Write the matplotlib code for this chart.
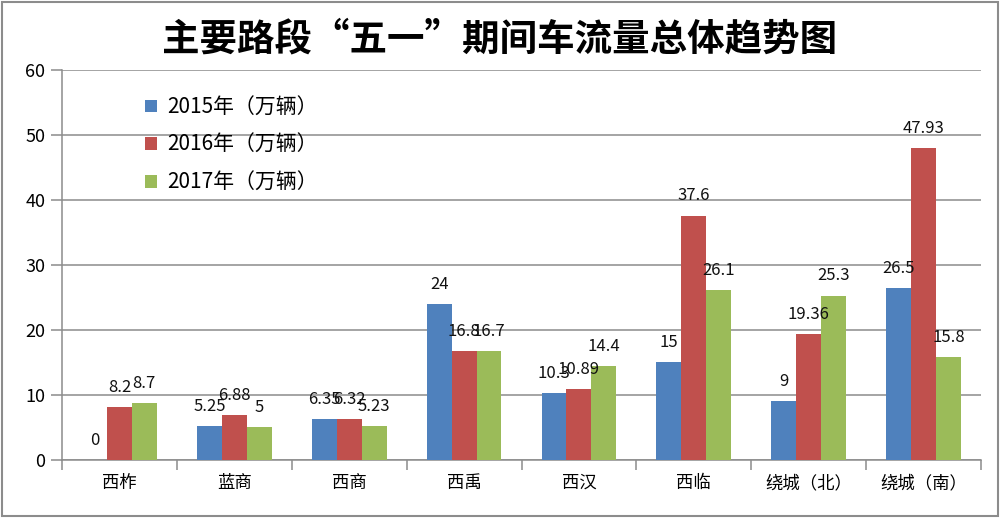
import numpy as np
import matplotlib
matplotlib.use('Agg')
import matplotlib.pyplot as plt
from matplotlib.patches import Rectangle

plt.rcParams['font.family'] = ['Noto Sans CJK SC', 'DejaVu Sans']

categories = ['西柞', '蓝商', '西商', '西禹', '西汉', '西临', '绕城（北）', '绕城（南）']
series_names = ['2015年（万辆）', '2016年（万辆）', '2017年（万辆）']
v2015 = [0, 5.25, 6.35, 24, 10.3, 15, 9, 26.5]
v2016 = [8.2, 6.88, 6.32, 16.8, 10.89, 37.6, 19.36, 47.93]
v2017 = [8.7, 5, 5.23, 16.7, 14.4, 26.1, 25.3, 15.8]
colors = ['#4F81BD', '#C0504D', '#9BBB59']

fig = plt.figure(figsize=(10, 5.18), dpi=100)
ax = fig.add_axes([0.062, 0.112, 0.919, 0.753])

x = np.arange(len(categories))
w = 0.217
for k, (vals, name, c) in enumerate(zip([v2015, v2016, v2017], series_names, colors)):
    pos = x + (k - 1) * w
    ax.bar(pos, vals, width=w, color=c, label=name, zorder=3)
    for px, v in zip(pos, vals):
        ax.annotate(f'{v:g}', (px, v), xytext=(0, 8), textcoords='offset points',
                    ha='center', va='bottom', fontsize=12, color='#111111', zorder=4)

ax.set_xlim(-0.5, len(categories) - 0.5)
ax.set_ylim(0, 60)
ax.set_yticks(range(0, 61, 10))
ax.yaxis.grid(True, color='#8c8c8c', linewidth=1.1, zorder=0)
ax.set_axisbelow(True)

for s in ['top', 'right']:
    ax.spines[s].set_visible(False)
for s in ['left', 'bottom']:
    ax.spines[s].set_color('#8c8c8c')
    ax.spines[s].set_linewidth(1.1)

ax.set_xticks(x)
ax.set_xticklabels(categories, fontsize=12.5)
ax.tick_params(axis='x', length=0, pad=10)
ax.set_xticks(np.arange(len(categories) + 1) - 0.5, minor=True)
ax.tick_params(axis='x', which='minor', length=7, color='#8c8c8c', width=1.1)
ax.tick_params(axis='y', labelsize=13, length=8, color='#8c8c8c', width=1.1, pad=4)

leg = ax.legend(loc='upper left', bbox_to_anchor=(0.07, 0.98), frameon=False,
                fontsize=15, handlelength=0.55, handleheight=0.55, labelspacing=0.75,
                handletextpad=0.5)

fig.text(0.5, 0.925, '主要路段“五一”期间车流量总体趋势图', ha='center', va='center',
         fontsize=27, fontweight='semibold')

fig.patches.append(Rectangle((0.002, 0.003), 0.996, 0.994, transform=fig.transFigure,
                             fill=False, edgecolor='#8c8c8c', linewidth=1.5))

fig.savefig('out.png', dpi=100)
